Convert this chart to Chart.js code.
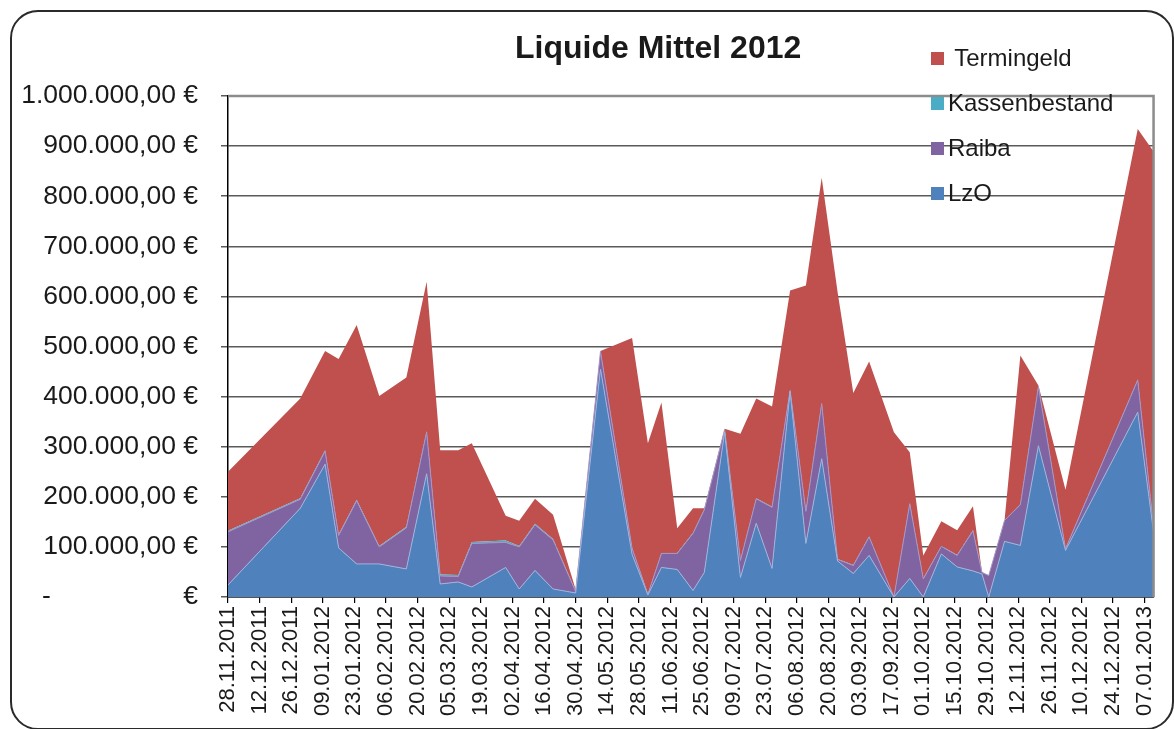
<!DOCTYPE html>
<html lang="de">
<head>
  <meta charset="UTF-8">
  <title>Liquide Mittel 2012</title>
  <script src="https://cdn.jsdelivr.net/npm/chart.js"></script>
  <style>
    body {
      margin: 0;
      background: #fff;
      font-family: "Liberation Sans", Arial, sans-serif;
      color: #1a1a1a;
    }
    .frame {
      position: absolute;
      left: 10px;
      top: 10px;
      width: 1160px;
      height: 716px;
      border: 2px solid #2a2a2a;
      border-radius: 28px;
    }
    canvas {
      position: absolute;
      left: 0;
      top: 0;
    }
    .titel {
      position: absolute;
      left: 515px;
      top: 29px;
      font-size: 32px;
      font-weight: bold;
      white-space: nowrap;
    }
    .legende {
      position: absolute;
      left: 931px;
      top: 0;
      font-size: 24px;
    }
    .legende div {
      position: absolute;
      left: 0;
      display: flex;
      align-items: center;
      white-space: nowrap;
      height: 26px;
    }
    .legende span.box {
      display: inline-block;
      width: 13px;
      height: 13px;
      margin-right: 4px;
    }
  </style>
</head>
<body>
  <div class="frame"></div>
  <canvas id="liquiChart" width="1174" height="729"></canvas>
  <div class="titel">Liquide Mittel 2012</div>
  <div class="legende" id="legende"></div>

  <script>
    // Stichtage und Bestände (in €)
    const stichtage = [
      '28.11.2011', '30.12.2011', '10.01.2012', '16.01.2012', '24.01.2012', '03.02.2012',
      '15.02.2012', '24.02.2012', '01.03.2012', '09.03.2012', '15.03.2012', '30.03.2012',
      '05.04.2012', '12.04.2012', '20.04.2012', '30.04.2012', '11.05.2012', '25.05.2012',
      '01.06.2012', '07.06.2012', '14.06.2012', '21.06.2012', '26.06.2012', '05.07.2012',
      '12.07.2012', '19.07.2012', '26.07.2012', '03.08.2012', '10.08.2012', '17.08.2012',
      '24.08.2012', '31.08.2012', '07.09.2012', '18.09.2012', '25.09.2012', '01.10.2012',
      '09.10.2012', '16.10.2012', '23.10.2012', '27.10.2012', '30.10.2012', '06.11.2012',
      '13.11.2012', '21.11.2012', '03.12.2012', '04.01.2013', '11.01.2013'
    ];
    const lzo = [
      24000, 177000, 265000, 98000, 66000, 66000,
      56000, 246000, 26000, 30000, 20000, 59000,
      16000, 53000, 16000, 8000, 455000, 85000,
      4000, 59000, 55000, 13000, 49000, 329000,
      39000, 147000, 57000, 410000, 107000, 276000,
      72000, 47000, 83000, 0, 37000, 0,
      86000, 60000, 52000, 46000, 0, 111000,
      103000, 302000, 93000, 369000, 130000
    ];
    const raiba = [
      106000, 18000, 26000, 25000, 126000, 34000,
      82000, 83000, 16000, 11000, 87000, 50000,
      84000, 91000, 98000, 3000, 35000, 12000,
      1000, 28000, 32000, 114000, 125000, 5000,
      34000, 49000, 122000, 2000, 64000, 110000,
      3000, 16000, 37000, 0, 149000, 36000,
      15000, 23000, 80000, 3000, 43000, 42000,
      81000, 118000, 3000, 64000, 10000
    ];
    const kassenbestand = [
      2000, 2000, 2000, 2000, 2000, 2000,
      2000, 2000, 3000, 3000, 3000, 4000,
      2000, 2000, 2000, 1000, 1000, 1000,
      1000, 1000, 1000, 1000, 1000, 1000,
      1000, 1000, 1000, 1000, 1000, 1000,
      1000, 1000, 1000, 0, 1000, 1000,
      1000, 1000, 1000, 1000, 0, 0,
      1000, 1000, 1000, 1000, 1000
    ];
    const termingeld = [
      118000, 199000, 198000, 350000, 349000, 299000,
      298000, 298000, 248000, 249000, 197000, 49000,
      50000, 50000, 48000, 3000, 0, 419000,
      301000, 300000, 49000, 49000, 2000, 1000,
      252000, 199000, 200000, 199000, 450000, 450000,
      534000, 343000, 349000, 329000, 102000, 46000,
      49000, 49000, 48000, 0, 0, 0,
      297000, 1000, 117000, 500000, 748000
    ];

    // Achsenbeschriftungen
    const xTickLabels = [
      '28.11.2011', '12.12.2011', '26.12.2011', '09.01.2012', '23.01.2012', '06.02.2012',
      '20.02.2012', '05.03.2012', '19.03.2012', '02.04.2012', '16.04.2012', '30.04.2012',
      '14.05.2012', '28.05.2012', '11.06.2012', '25.06.2012', '09.07.2012', '23.07.2012',
      '06.08.2012', '20.08.2012', '03.09.2012', '17.09.2012', '01.10.2012', '15.10.2012',
      '29.10.2012', '12.11.2012', '26.11.2012', '10.12.2012', '24.12.2012', '07.01.2013'
    ];
    const yTickLabels = [
      '-                  €', '100.000,00 €', '200.000,00 €', '300.000,00 €', '400.000,00 €',
      '500.000,00 €', '600.000,00 €', '700.000,00 €', '800.000,00 €', '900.000,00 €',
      '1.000.000,00 €'
    ];

    const serien = [
      { label: 'LzO', data: lzo, farbe: '#4F81BD', rand: '#9fb4da' },
      { label: 'Raiba', data: raiba, farbe: '#8064A2', rand: '#a596c6' },
      { label: 'Kassenbestand', data: kassenbestand, farbe: '#4BACC6', rand: '#4BACC6' },
      { label: 'Termingeld', data: termingeld, farbe: '#C0504D', rand: '#C0504D' }
    ];

    // Tage seit dem ersten Stichtag (Datumsachse wie in Excel)
    function tagNr(s) {
      const [d, m, y] = s.split('.').map(Number);
      return Math.round((Date.UTC(y, m - 1, d) - Date.UTC(2011, 10, 28)) / 86400000);
    }
    const tage = stichtage.map(tagNr);
    const tickTage = xTickLabels.map(tagNr);

    const schrift = '"Liberation Sans", Arial, sans-serif';

    // Rahmen oben und rechts um die Zeichenfläche
    const rahmen = {
      id: 'rahmen',
      afterDatasetsDraw(chart) {
        const a = chart.chartArea;
        const c = chart.ctx;
        c.save();
        c.strokeStyle = '#8c8c8c';
        c.lineWidth = 2.5;
        c.beginPath();
        c.moveTo(a.left, a.top);
        c.lineTo(a.right, a.top);
        c.lineTo(a.right, a.bottom);
        c.stroke();
        c.restore();
      }
    };

    const ctx = document.getElementById('liquiChart').getContext('2d');
    new Chart(ctx, {
      type: 'line',
      data: {
        datasets: serien.map((s, i) => ({
          label: s.label,
          data: s.data.map((v, j) => ({ x: tage[j], y: v })),
          backgroundColor: s.farbe,
          borderColor: s.rand,
          borderWidth: i < 2 ? 1 : 0,
          pointRadius: 0,
          tension: 0,
          fill: i === 0 ? 'origin' : '-1'
        }))
      },
      options: {
        responsive: false,
        animation: false,
        layout: { padding: { top: 96, right: 8, left: 0, bottom: 0 } },
        plugins: {
          legend: { display: false },
          title: { display: false },
          tooltip: { enabled: false }
        },
        scales: {
          x: {
            type: 'linear',
            min: 0,
            max: tage[tage.length - 1],
            afterBuildTicks: s => { s.ticks = tickTage.map(v => ({ value: v })); },
            afterFit: s => { s.height = 132; },
            ticks: {
              autoSkip: false,
              minRotation: 90,
              maxRotation: 90,
              padding: 3,
              color: '#1a1a1a',
              font: { family: schrift, size: 22 },
              callback: (v, i) => xTickLabels[i]
            },
            grid: { drawOnChartArea: false, tickLength: 6, color: '#000', lineWidth: 1.2 },
            border: { color: '#000', width: 1.5 }
          },
          y: {
            stacked: true,
            min: 0,
            max: 1000000,
            afterFit: s => { s.width = 228; },
            ticks: {
              stepSize: 100000,
              padding: 23,
              color: '#1a1a1a',
              font: { family: schrift, size: 26.5 },
              callback: v => yTickLabels[Math.round(v / 100000)]
            },
            grid: { color: '#5a5a5a', lineWidth: 1.5, tickLength: 7 },
            border: { color: '#000', width: 1.5 }
          }
        }
      },
      plugins: [rahmen]
    });

    // Legende wie im Original: Reihenfolge von oben nach unten umgekehrt
    const legendeZeilen = [
      { text: ' Termingeld', farbe: '#C0504D', y: 45 },
      { text: 'Kassenbestand', farbe: '#4BACC6', y: 90 },
      { text: 'Raiba', farbe: '#8064A2', y: 135 },
      { text: 'LzO', farbe: '#4F81BD', y: 180 }
    ];
    const leg = document.getElementById('legende');
    legendeZeilen.forEach(z => {
      const row = document.createElement('div');
      row.style.top = z.y + 'px';
      const box = document.createElement('span');
      box.className = 'box';
      box.style.background = z.farbe;
      const t = document.createElement('span');
      t.textContent = z.text;
      t.style.whiteSpace = 'pre';
      row.appendChild(box);
      row.appendChild(t);
      leg.appendChild(row);
    });
  </script>
</body>
</html>
